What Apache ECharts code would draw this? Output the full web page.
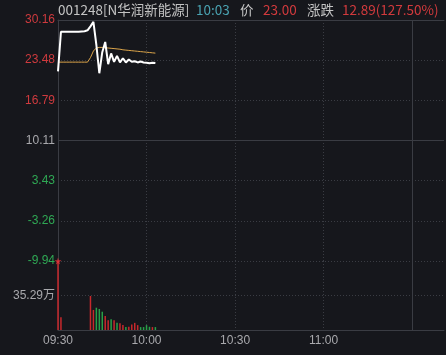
<!DOCTYPE html>
<html><head><meta charset="utf-8">
<script src="https://cdn.jsdelivr.net/npm/echarts@6/dist/echarts.min.js"></script>
<style>html,body{margin:0;padding:0;background:#16171c;}#c{width:446px;height:355px;}</style>
</head><body><div id="c"></div>
<script>
// minutes since 09:30
const minutes = [0,1,2,3,4,5,6,7,8,9,10,11,12,13,14,15,16,17,18,19,20,21,22,23,24,25,26,27,28,29,30,31,32,33];
const price = [21.6,28.2,28.2,28.2,28.2,28.2,28.2,28.2,28.25,28.3,28.45,29.1,29.85,26.0,21.3,24.8,26.5,22.8,24.6,23.2,24.2,23.1,23.8,23.1,23.6,23.2,23.3,23.1,23.25,23.1,23.05,22.95,23.05,23.0];
const avgPrice = [23.15,23.15,23.15,23.15,23.15,23.15,23.15,23.15,23.15,23.15,23.15,23.9,25.0,25.5,25.6,25.6,25.55,25.5,25.45,25.4,25.35,25.3,25.2,25.15,25.1,25.05,25.0,24.95,24.9,24.85,24.8,24.75,24.7,24.65];
// volume in 万, 1 = up(red), -1 = down(green)
const volume = [150,13,0,0,0,0,0,0,0,0,0,34.8,20.5,22.8,21.5,18.7,14.3,10,11,10,7.5,6.8,5,3,3.3,5.7,7.3,5,3,3,5,3.3,3,3];
const volDir = [1,1,0,0,0,0,0,0,0,0,0,1,1,-1,-1,-1,1,1,-1,1,-1,1,1,-1,1,1,1,1,-1,-1,-1,-1,1,-1];
const priceTicks = {min:-9.94, max:30.16, prevClose:10.11};
const volTicks = {max:70.58, step:35.29};
const timeLabels = {0:'09:30',30:'10:00',60:'10:30',90:'11:00'};
const xMax = 130.8;
const noonBreak = 120;
const limitMark = [[0,-9.94]];
const header = [
  {text:'001248[N华润新能源]', color:'#c4c4c4', x:58},
  {text:'10:03', color:'#4aa3b2', x:196},
  {text:'价', color:'#c4c4c4', x:240},
  {text:'23.00', color:'#d23a3d', x:263},
  {text:'涨跌', color:'#c4c4c4', x:307},
  {text:'12.89(127.50%)', color:'#d23a3d', x:342}
];

const GREEN='#2fa854', GRID='#3a3c43', TXT='#a9a9ad';
const FONT='"Liberation Sans", Arial, "Noto Sans CJK SC", sans-serif';
const chart = echarts.init(document.getElementById('c'), null, {renderer:'canvas'});
const pData = minutes.map((m,i)=>[m,price[i]]);
const aData = minutes.map((m,i)=>[m,avgPrice[i]]);
const vData = minutes.map((m,i)=>({value:[m,volume[i]], itemStyle:{color: volDir[i]>=0?'#c8282c':'#28a048'}})).filter((d,i)=>volume[i]>0);

const dotted = {color:GRID, type:[1,2], width:1};
chart.setOption({
  backgroundColor:'#16171c',
  animation:false,
  graphic: header.map(h=>({type:'text', left:h.x, top:3, style:{text:h.text, fill:h.color, font:'13.5px "Noto Sans CJK SC", "Liberation Sans", sans-serif'}})),
  grid:[
    {left:58, right:2, top:20, bottom:94},
    {left:58, right:2, top:261, bottom:25}
  ],
  xAxis:[
    {type:'value', gridIndex:0, min:0, max:xMax, interval:30, position:'top',
     axisLine:{show:true, onZero:false, lineStyle:{color:GRID}}, axisTick:{show:false}, axisLabel:{show:false},
     splitLine:{show:true, showMinLine:false, showMaxLine:false, lineStyle:dotted}},
    {type:'value', gridIndex:1, min:0, max:xMax, interval:30,
     axisLine:{show:true, onZero:false, lineStyle:{color:GRID}}, axisTick:{show:false},
     axisLabel:{show:true, color:TXT, fontSize:12, fontFamily:FONT, margin:5, showMaxLabel:false,
       formatter:v=>timeLabels[v]||''},
     splitLine:{show:true, showMinLine:false, showMaxLine:false, lineStyle:dotted}}
  ],
  yAxis:[
    {type:'value', gridIndex:0, min:priceTicks.min, max:priceTicks.max, interval:(priceTicks.max-priceTicks.prevClose)/3,
     axisLine:{show:true, lineStyle:{color:GRID}}, axisTick:{show:false},
     axisLabel:{fontSize:12, fontFamily:FONT, margin:3, formatter:v=>v.toFixed(2),
       color:v=> Math.abs(v-priceTicks.prevClose)<0.01 ? TXT : (v>priceTicks.prevClose? '#cf3a3e' : GREEN)},
     splitLine:{show:true, showMaxLine:false, lineStyle:dotted}},
    {type:'value', gridIndex:1, min:0, max:volTicks.max, interval:volTicks.step,
     axisLine:{show:true, lineStyle:{color:GRID}}, axisTick:{show:false},
     axisLabel:{fontSize:12, fontFamily:FONT, margin:3, color:TXT, showMinLabel:false, showMaxLabel:false,
       formatter:v=> Math.abs(v-volTicks.step)<0.01 ? v.toFixed(2)+'万' : ''},
     splitLine:{show:true, showMinLine:false, showMaxLine:false, lineStyle:dotted}}
  ],
  series:[
    {type:'line', xAxisIndex:0, yAxisIndex:0, data:aData, showSymbol:false, lineStyle:{color:'#dca54a', width:1}, z:3,
     markLine:{silent:true, symbol:'none', label:{show:false}, lineStyle:{color:GRID, type:'solid', width:1},
       data:[{yAxis:priceTicks.prevClose},{xAxis:noonBreak}]}},
    {type:'line', xAxisIndex:0, yAxisIndex:0, data:pData, showSymbol:false, lineStyle:{color:'#ffffff', width:2}, z:4},
    {type:'scatter', xAxisIndex:0, yAxisIndex:0, data:limitMark, symbol:'path://M50,0 L61,35 L98,35 L68,57 L79,91 L50,70 L21,91 L32,57 L2,35 L39,35 Z', symbolSize:7, itemStyle:{color:'#e8333a'}, z:5},
    {type:'bar', xAxisIndex:1, yAxisIndex:1, data:vData, barWidth:1.5, clip:true,
     markLine:{silent:true, symbol:'none', label:{show:false}, lineStyle:{color:GRID, type:'solid', width:1},
       data:[{xAxis:noonBreak}]}}
  ]
});
</script></body></html>
